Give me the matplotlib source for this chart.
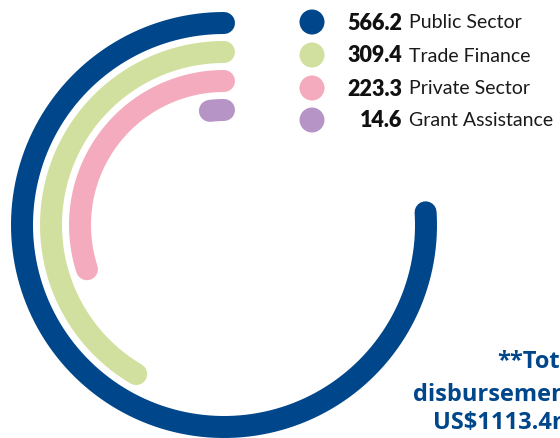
import numpy as np
import matplotlib
matplotlib.use("Agg")
import matplotlib.pyplot as plt

# ---- data ----
categories = ["Public Sector", "Trade Finance", "Private Sector", "Grant Assistance"]
values = [566.2, 309.4, 223.3, 14.6]
value_labels = ["566.2", "309.4", "223.3", "14.6"]
colors = ["#00468B", "#D1E09E", "#F4ABBD", "#B794C6"]
full_circle = 745.0
total_lines = ["**Total", "disbursements", "US$1113.4m"]

W, H = 560, 439
fig = plt.figure(figsize=(W / 100, H / 100), dpi=100)

# polar axes for the radial bars (1 data unit of r = 1 pixel)
cx, cy, R = 224, 226, 220
ax = fig.add_axes([(cx - R) / W, (H - cy - R) / H, 2 * R / W, 2 * R / H], projection="polar")
ax.set_theta_zero_location("N")
ax.set_theta_direction(1)
ax.set_ylim(0, R)
ax.axis("off")

r_outer, spacing = 202, 29
lw = 22 * 72 / 100
for i, (v, c) in enumerate(zip(values, colors)):
    theta = np.linspace(0, v / full_circle * 2 * np.pi, 300)
    ax.plot(theta, np.full_like(theta, r_outer - i * spacing), color=c, lw=lw,
            solid_capstyle="round")

# overlay axes in pixel coordinates for legend and text
ov = fig.add_axes([0, 0, 1, 1])
ov.set_xlim(0, W)
ov.set_ylim(H, 0)
ov.axis("off")

leg_y = [23, 56, 89, 121]
for y, c, vl, cat in zip(leg_y, colors, value_labels, categories):
    ov.scatter([312], [y], s=(25 * 0.72) ** 2, color=c, edgecolors="none")
    ov.text(402, y, vl, ha="right", va="center", fontsize=15.5, fontweight="heavy",
            family=["Lato", "DejaVu Sans"], color="#111111")
    ov.text(409, y, cat, ha="left", va="center", fontsize=14, fontweight="normal",
            family=["Lato", "DejaVu Sans"], color="#1a1a1a")

for (x, y), line in zip([(497, 362), (413, 395), (433, 423)], total_lines):
    ov.text(x, y, line, ha="left", va="center", fontsize=17, fontweight="bold",
            family=["Open Sans", "DejaVu Sans"], color="#00468B")

fig.savefig("out.png", dpi=100)
